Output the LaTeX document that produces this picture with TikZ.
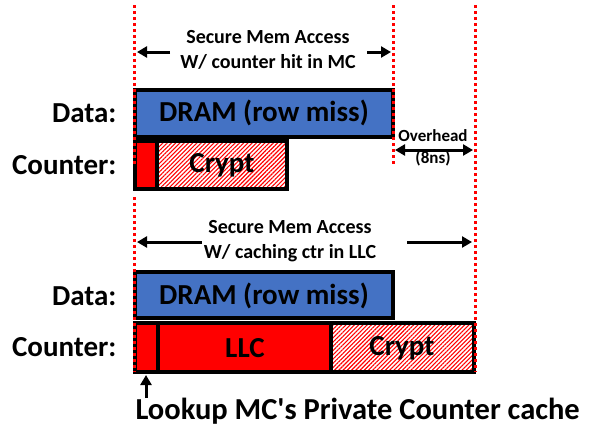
\documentclass[tikz,border=0pt]{standalone}
\usepackage{fontspec}
\setmainfont{Carlito}
\usetikzlibrary{arrows.meta,patterns.meta}
\definecolor{dramblue}{HTML}{4472C4}
\tikzset{
  bar/.style={draw=black,line width=3.5pt},
  hatchbar/.style={bar,pattern={Lines[angle=45,distance=3pt,line width=1.1pt]},pattern color=red},
  redline/.style={draw=red,line width=3pt,dash pattern=on 3pt off 3pt},
  span/.style={line width=3pt,-{Triangle[length=10pt,width=11pt]}},
  rowlbl/.style={anchor=east,font=\fontsize{29}{29}\selectfont\bfseries},
  barlbl/.style={font=\fontsize{29}{29}\selectfont\bfseries},
  spanlbl/.style={align=center,font=\fontsize{20}{25}\selectfont\bfseries},
}
\begin{document}
\begin{tikzpicture}[x=1pt,y=-1pt]
\useasboundingbox (0,0) rectangle (589,429);
% first access: counter hit in MC
\node[spanlbl] (span1) at (268,50) {Secure Mem Access\\W/ counter hit in MC};
\coordinate (s1a) at (170,52); \coordinate (s1b) at (137,52);
\coordinate (s1c) at (367,52); \coordinate (s1d) at (391,52);
\draw[span] (s1a) -- (s1b);
\draw[span] (s1c) -- (s1d);
\node[rowlbl] (data1) at (120,113) {Data:};
\node[rowlbl] (ctr1) at (120,165) {Counter:};
\filldraw[bar,fill=dramblue] (135,90) rectangle (393,137);
\node[barlbl] (dram1) at (264,113) {DRAM (row miss)};
\filldraw[bar,fill=red] (135,141) rectangle (157,189);
\draw[hatchbar] (157,141) rectangle (287,189);
\node[barlbl] (crypt1) at (222,165) {Crypt};
% overhead
\node[align=center,font=\fontsize{17}{22}\selectfont\bfseries] (ovh) at (433,148) {Overhead\\(8ns)};
\coordinate (o1) at (395,150); \coordinate (o2) at (473,150);
\draw[line width=3pt,{Triangle[length=10pt,width=11pt]}-{Triangle[length=10pt,width=11pt]}] (o1) -- (o2);
% second access: caching ctr in LLC
\node[spanlbl] (span2) at (290,241) {Secure Mem Access\\W/ caching ctr in LLC};
\coordinate (s2a) at (202,242); \coordinate (s2b) at (137,242);
\coordinate (s2c) at (407,242); \coordinate (s2d) at (472,242);
\draw[span] (s2a) -- (s2b);
\draw[span] (s2c) -- (s2d);
\node[rowlbl] (data2) at (120,296) {Data:};
\node[rowlbl] (ctr2) at (120,347) {Counter:};
\filldraw[bar,fill=dramblue] (135,272) rectangle (393,318);
\node[barlbl] (dram2) at (264,296) {DRAM (row miss)};
\filldraw[bar,fill=red] (135,323) rectangle (158,372);
\filldraw[bar,fill=red] (158,323) rectangle (331,372);
\node[barlbl] (llc) at (245,348) {LLC};
\draw[hatchbar] (331,323) rectangle (474,372);
\node[barlbl] (crypt2) at (402,348) {Crypt};
% time marks
\draw[redline] (134,5) -- (134,165);
\draw[redline] (134,197) -- (134,372);
\draw[redline] (393,5) -- (393,166);
\draw[redline] (475,5) -- (475,372);
% lookup note
\coordinate (l1) at (146,398); \coordinate (l2) at (146,375);
\draw[span] (l1) -- (l2);
\node[anchor=west,font=\fontsize{30.5}{30.5}\selectfont\bfseries] (lookup) at (132,411) {Lookup MC\textquotesingle s Private Counter cache};
\end{tikzpicture}
\end{document}
